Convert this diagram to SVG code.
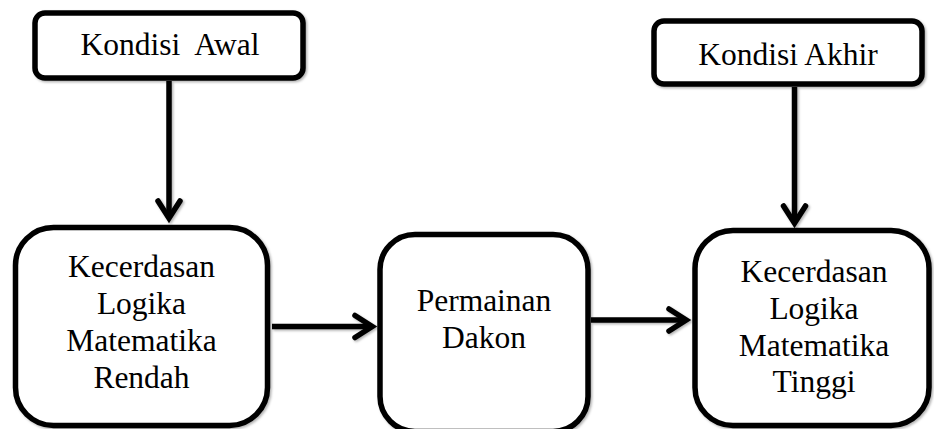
<svg xmlns="http://www.w3.org/2000/svg" width="934" height="429" viewBox="0 0 934 429">
<style>
.box{fill:#fff;stroke:#000;stroke-width:5.5}
.lbl{font-size:31.5px;fill:#000;text-anchor:middle}
.conn{fill:none;stroke:#000;stroke-width:5.5}
</style>
<defs>
<filter id="sh" x="-10%" y="-10%" width="120%" height="120%">
<feDropShadow dx="1.5" dy="1.5" stdDeviation="1.2" flood-color="#000" flood-opacity="0.3"/>
</filter>
<marker id="arr" markerUnits="userSpaceOnUse" viewBox="-30 -15 35 30" refX="-5" refY="0" markerWidth="35" markerHeight="30" orient="auto" overflow="visible">
<path d="M-22,-11 L-4.8,0 L-22,11" fill="none" stroke="#000" stroke-width="5.5" stroke-linecap="round" stroke-linejoin="miter"/>
</marker>
</defs>
<g font-family="Liberation Serif, Tinos, Times New Roman, Times, Nimbus Roman, FreeSerif, DejaVu Serif, serif">
<g id="awal">
<rect class="box" x="35" y="13" width="268" height="65" rx="10" filter="url(#sh)"/>
<text class="lbl" x="170" y="55" xml:space="preserve">Kondisi  Awal</text>
</g>
<g id="akhir">
<rect class="box" x="654" y="21" width="268" height="63" rx="10" filter="url(#sh)"/>
<text class="lbl" x="788" y="65">Kondisi Akhir</text>
</g>
<g id="rendah">
<rect class="box" x="15.5" y="227.5" width="252" height="198" rx="38" filter="url(#sh)"/>
<text class="lbl" x="141.5" y="277">Kecerdasan</text>
<text class="lbl" x="141.5" y="314">Logika</text>
<text class="lbl" x="141.5" y="351">Matematika</text>
<text class="lbl" x="141.5" y="388">Rendah</text>
</g>
<g id="dakon">
<rect class="box" x="380" y="234.5" width="208" height="197" rx="35" filter="url(#sh)"/>
<text class="lbl" x="484" y="311">Permainan</text>
<text class="lbl" x="484" y="348">Dakon</text>
</g>
<g id="tinggi">
<rect class="box" x="695" y="230.5" width="234" height="195" rx="38" filter="url(#sh)"/>
<text class="lbl" x="814" y="282">Kecerdasan</text>
<text class="lbl" x="814" y="319">Logika</text>
<text class="lbl" x="814" y="356">Matematika</text>
<text class="lbl" x="814" y="392">Tinggi</text>
</g>
</g>
<g id="connectors" filter="url(#sh)">
<path class="conn" d="M169,81 L169,218" marker-end="url(#arr)"/>
<path class="conn" d="M794.5,87 L794.5,223" marker-end="url(#arr)"/>
<path class="conn" d="M272,326.5 L372,326.5" marker-end="url(#arr)"/>
<path class="conn" d="M591,320 L686,320" marker-end="url(#arr)"/>
</g>
</svg>
